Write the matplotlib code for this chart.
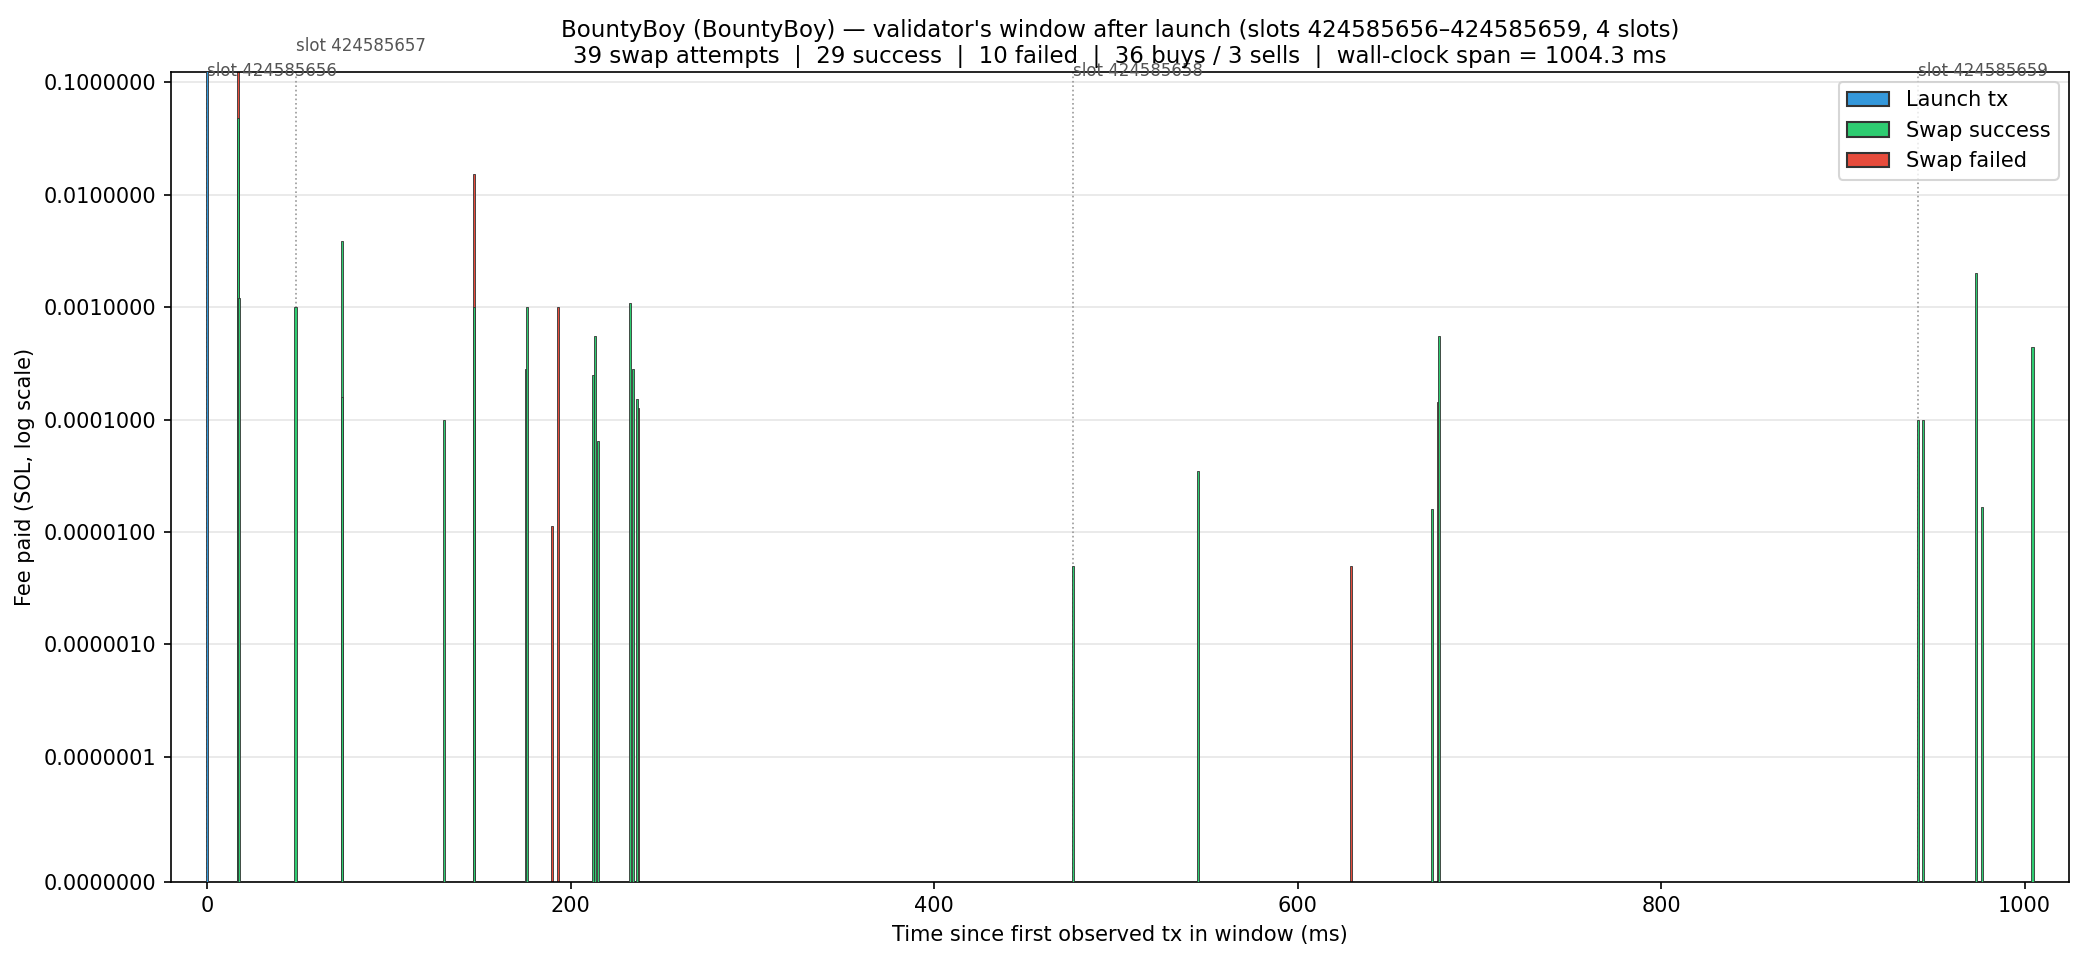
import matplotlib
matplotlib.use('Agg')
import matplotlib.pyplot as plt
from matplotlib.patches import Patch
from matplotlib.ticker import FixedLocator, FormatStrFormatter, NullLocator

# fees in SOL, times in ms since first observed tx
launch_ms = [0.0]
launch_fee = [0.13]

success_ms = [17.1, 17.3, 48.6, 74.2, 74.4, 130.4, 146.8, 175.6, 176.1, 212.4,
              213.5, 215.2, 232.7, 234.3, 236.3, 476.6, 545.3, 674.0, 677.9,
              941.5, 944.2, 973.2, 976.3, 1004.3]
success_fee = [0.048, 0.0012, 0.001, 0.0039, 0.00016, 0.0001, 0.001, 0.00028,
               0.001, 0.00025, 0.00056, 0.000064, 0.0011, 0.00028, 0.000153,
               0.000005, 0.0000347, 0.000016, 0.00056, 0.0001, 0.0001, 0.002,
               0.0000167, 0.00044]

failed_ms = [17.1, 146.7, 189.7, 193.0, 236.9, 629.5, 677.4]
failed_fee = [0.13, 0.0152, 0.0000112, 0.001, 0.000127, 0.000005, 0.000143]

slot_ids = [424585656, 424585657, 424585658, 424585659]
slot_start_ms = [0.0, 48.6, 476.6, 941.5]

span_ms = 1004.3
c_launch, c_ok, c_fail = '#3498db', '#2ecc71', '#e74c3c'

fig = plt.figure(figsize=(2084 / 150, 960 / 150), dpi=150)
ax = fig.add_axes([0.0819, 0.0816, 0.9109, 0.8437])
ax.set_yscale('symlog', linthresh=1e-7, linscale=1)

edge = dict(edgecolor='#333333', linewidth=0.4)
ax.bar(launch_ms, launch_fee, width=1.2, color=c_launch, zorder=3, **edge)
ax.bar(failed_ms, failed_fee, width=1.0, color=c_fail, zorder=2, **edge)
ax.bar(success_ms, success_fee, width=1.2, color=c_ok, zorder=3, **edge)

ax.set_xlim(-0.02 * span_ms, span_ms * 1.02)
ax.set_ylim(0, 0.1246)

# slot boundaries
last_x = None
for sid, t in zip(slot_ids, slot_start_ms):
    ax.axvline(t, color='#999999', ls=':', lw=0.8, zorder=1)
    y = 0.99
    if last_x is not None and t - last_x < 60:
        y = 1.021
    ax.text(t, y, 'slot %d' % sid, transform=ax.get_xaxis_transform(),
            fontsize=8, color='#555555', ha='left', va='bottom')
    last_x = t

ax.yaxis.set_major_locator(FixedLocator([0] + [10.0 ** -k for k in range(7, 0, -1)]))
ax.yaxis.set_major_formatter(FormatStrFormatter('%.7f'))
ax.yaxis.set_minor_locator(NullLocator())
ax.yaxis.grid(True, color='#e6e6e6', lw=0.8)
ax.set_axisbelow(True)

ax.set_xlabel('Time since first observed tx in window (ms)', fontsize=10)
ax.set_ylabel('Fee paid (SOL, log scale)', fontsize=10)
ax.set_title("BountyBoy (BountyBoy) \u2014 validator's window after launch "
             "(slots 424585656\u2013424585659, 4 slots)\n"
             "39 swap attempts  |  29 success  |  10 failed  |  36 buys / 3 sells  |  "
             "wall-clock span = %.1f ms" % span_ms, fontsize=11, pad=4)

handles = [Patch(facecolor=c_launch, edgecolor='#333333', label='Launch tx'),
           Patch(facecolor=c_ok, edgecolor='#333333', label='Swap success'),
           Patch(facecolor=c_fail, edgecolor='#333333', label='Swap failed')]
ax.legend(handles=handles, loc='upper right', fontsize=10)

fig.savefig('out.png', dpi=150)
